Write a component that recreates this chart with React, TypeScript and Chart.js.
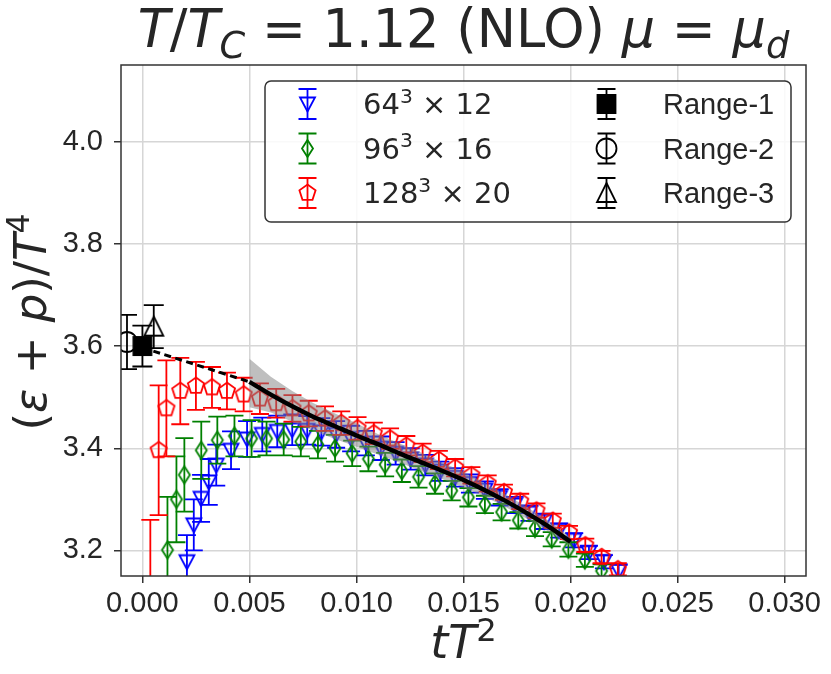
import { useEffect, useRef } from 'react';
import { Chart, registerables } from 'chart.js';

Chart.register(...registerables);

// axis ticks
const xTicks = [0, 0.005, 0.01, 0.015, 0.02, 0.025, 0.03];
const yTicks = [3.2, 3.4, 3.6, 3.8, 4.0];

// 64^3 x 12
const blueX = [0.00208, 0.0024, 0.00274, 0.0031, 0.00345, 0.00414, 0.00489, 0.0056, 0.0063, 0.007, 0.0077, 0.00836, 0.00905, 0.00975, 0.01044, 0.01114, 0.01183, 0.01253, 0.01322, 0.01392, 0.01461, 0.0153, 0.016, 0.01669, 0.01739, 0.01808, 0.01878, 0.01947, 0.02017, 0.02086, 0.02156, 0.02225];
const blueY = [3.178, 3.25, 3.302, 3.334, 3.367, 3.396, 3.418, 3.427, 3.433, 3.436, 3.435, 3.432, 3.427, 3.419, 3.41, 3.4, 3.39, 3.379, 3.367, 3.355, 3.343, 3.331, 3.318, 3.304, 3.289, 3.273, 3.257, 3.239, 3.22, 3.196, 3.178, 3.16];
const blueErr = [0.052, 0.05, 0.046, 0.045, 0.04, 0.037, 0.035, 0.033, 0.031, 0.03, 0.028, 0.027, 0.026, 0.025, 0.024, 0.023, 0.022, 0.021, 0.02, 0.019, 0.018, 0.018, 0.017, 0.016, 0.016, 0.015, 0.015, 0.014, 0.014, 0.013, 0.013, 0.012];

// 96^3 x 16
const greenX = [0.00117, 0.00159, 0.00196, 0.00275, 0.0035, 0.0043, 0.0051, 0.0058, 0.0066, 0.0074, 0.0082, 0.009, 0.0098, 0.01056, 0.01134, 0.01212, 0.0129, 0.01367, 0.01445, 0.01523, 0.016, 0.01678, 0.01756, 0.01834, 0.01912, 0.0199, 0.02067, 0.02145];
const greenY = [3.201, 3.3, 3.348, 3.396, 3.416, 3.424, 3.419, 3.419, 3.417, 3.413, 3.407, 3.4, 3.39, 3.379, 3.368, 3.356, 3.344, 3.331, 3.317, 3.304, 3.29, 3.275, 3.259, 3.243, 3.222, 3.202, 3.181, 3.16];
const greenErr = [0.104, 0.084, 0.072, 0.056, 0.046, 0.04, 0.036, 0.033, 0.031, 0.029, 0.027, 0.026, 0.025, 0.024, 0.023, 0.022, 0.021, 0.02, 0.019, 0.018, 0.017, 0.016, 0.016, 0.015, 0.014, 0.014, 0.013, 0.013];

// 128^3 x 20
const redX = [0.00037, 0.00076, 0.00112, 0.00177, 0.0025, 0.00325, 0.00395, 0.00473, 0.00549, 0.00625, 0.00701, 0.00777, 0.00853, 0.00929, 0.01005, 0.01081, 0.01157, 0.01233, 0.01309, 0.01385, 0.01461, 0.01537, 0.01613, 0.01689, 0.01765, 0.01841, 0.01917, 0.01993, 0.02069, 0.02145, 0.02221];
const redY = [3.08, 3.396, 3.478, 3.512, 3.522, 3.519, 3.512, 3.505, 3.497, 3.488, 3.478, 3.468, 3.458, 3.449, 3.439, 3.429, 3.419, 3.405, 3.391, 3.377, 3.362, 3.347, 3.331, 3.314, 3.296, 3.278, 3.258, 3.235, 3.21, 3.187, 3.163];
const redErr = [0.18, 0.127, 0.094, 0.065, 0.047, 0.04, 0.036, 0.033, 0.03, 0.028, 0.026, 0.025, 0.024, 0.023, 0.022, 0.021, 0.02, 0.019, 0.018, 0.018, 0.017, 0.016, 0.016, 0.015, 0.015, 0.014, 0.014, 0.013, 0.013, 0.012, 0.012];

// continuum extrapolations: Range-1, Range-2, Range-3
const rangeX = [0.0, -0.00072, 0.00053];
const rangeY = [3.6, 3.608, 3.638];
const rangeErr = [0.04, 0.053, 0.042];

// fit curve with error band
const fitX = [0.005, 0.006, 0.007, 0.008, 0.009, 0.01, 0.011, 0.012, 0.013, 0.014, 0.015, 0.016, 0.017, 0.018, 0.019, 0.02];
const fitY = [3.53, 3.505, 3.482, 3.461, 3.443, 3.425, 3.408, 3.39, 3.373, 3.356, 3.338, 3.318, 3.296, 3.272, 3.246, 3.217];
const bandHigh = [3.575, 3.54, 3.512, 3.488, 3.468, 3.449, 3.428, 3.41, 3.392, 3.372, 3.354, 3.332, 3.309, 3.284, 3.257, 3.226];
const bandLow = [3.48, 3.47, 3.452, 3.434, 3.418, 3.403, 3.388, 3.372, 3.356, 3.34, 3.323, 3.305, 3.284, 3.261, 3.236, 3.208];
const dashX = [0.0, 0.005];
const dashY = [3.597, 3.53];

const MATH = '"DejaVu Sans"';
const SANS = '"Liberation Sans"';
const TEXT = '#262626';

function drawMarker(ctx: CanvasRenderingContext2D, kind: string, x: number, y: number, color: string) {
  ctx.save();
  ctx.strokeStyle = color;
  ctx.fillStyle = color;
  ctx.lineWidth = 1.8;
  ctx.beginPath();
  if (kind === 'triDown') {
    ctx.moveTo(x - 7.5, y - 6.5);
    ctx.lineTo(x + 7.5, y - 6.5);
    ctx.lineTo(x, y + 7.5);
    ctx.closePath();
    ctx.stroke();
  } else if (kind === 'thinDiamond') {
    ctx.moveTo(x, y - 8.5);
    ctx.lineTo(x + 5.5, y);
    ctx.lineTo(x, y + 8.5);
    ctx.lineTo(x - 5.5, y);
    ctx.closePath();
    ctx.stroke();
  } else if (kind === 'pentagon') {
    for (let k = 0; k < 5; k++) {
      const a = -Math.PI / 2 + (k * 2 * Math.PI) / 5;
      const px = x + 8.5 * Math.cos(a);
      const py = y + 8.5 * Math.sin(a);
      if (k === 0) ctx.moveTo(px, py);
      else ctx.lineTo(px, py);
    }
    ctx.closePath();
    ctx.stroke();
  } else if (kind === 'square') {
    ctx.rect(x - 9, y - 9, 18, 18);
    ctx.fill();
    ctx.stroke();
  } else if (kind === 'circle') {
    ctx.arc(x, y, 10, 0, Math.PI * 2);
    ctx.stroke();
  } else if (kind === 'triUp') {
    ctx.moveTo(x, y - 10);
    ctx.lineTo(x + 9.5, y + 9);
    ctx.lineTo(x - 9.5, y + 9);
    ctx.closePath();
    ctx.stroke();
  }
  ctx.restore();
}

function markerCanvas(kind: string, color: string) {
  const c = document.createElement('canvas');
  c.width = 28;
  c.height = 28;
  drawMarker(c.getContext('2d')!, kind, 14, 14, color);
  return c;
}

type Piece = { t: string; it?: boolean; s?: number; dy?: number; f?: string };

function setFont(ctx: CanvasRenderingContext2D, p: Piece, size: number) {
  ctx.font = `${p.it ? 'italic ' : ''}${(size * (p.s ?? 1)).toFixed(1)}px ${p.f ?? MATH}`;
}

function richWidth(ctx: CanvasRenderingContext2D, pieces: Piece[], size: number) {
  let w = 0;
  for (const p of pieces) {
    setFont(ctx, p, size);
    w += ctx.measureText(p.t).width;
  }
  return w;
}

function drawRich(ctx: CanvasRenderingContext2D, pieces: Piece[], x: number, y: number, size: number) {
  let cx = x;
  ctx.textAlign = 'left';
  ctx.textBaseline = 'alphabetic';
  for (const p of pieces) {
    setFont(ctx, p, size);
    ctx.fillText(p.t, cx, y + (p.dy ?? 0) * size);
    cx += ctx.measureText(p.t).width;
  }
}

const titlePieces: Piece[] = [
  { t: 'T', it: true }, { t: '/' }, { t: 'T', it: true }, { t: 'C', it: true, s: 0.7, dy: 0.2 },
  { t: ' = 1.12 (NLO) ' }, { t: 'μ', it: true }, { t: ' = ' }, { t: 'μ', it: true }, { t: 'd', it: true, s: 0.7, dy: 0.2 },
];
const yLabelPieces: Piece[] = [
  { t: '(' }, { t: 'ε', it: true }, { t: ' + ' }, { t: 'p', it: true }, { t: ')/' }, { t: 'T', it: true }, { t: '4', s: 0.7, dy: -0.38 },
];
const xLabelPieces: Piece[] = [{ t: 'tT', it: true }, { t: '2', s: 0.7, dy: -0.38 }];

const legendRows = [
  { pieces: [{ t: '64' }, { t: '3', s: 0.7, dy: -0.38 }, { t: ' × 12' }], kind: 'triDown', color: '#0000ff' },
  { pieces: [{ t: '96' }, { t: '3', s: 0.7, dy: -0.38 }, { t: ' × 16' }], kind: 'thinDiamond', color: '#008000' },
  { pieces: [{ t: '128' }, { t: '3', s: 0.7, dy: -0.38 }, { t: ' × 20' }], kind: 'pentagon', color: '#ff0000' },
];
const legendRanges = [
  { text: 'Range-1', kind: 'square' },
  { text: 'Range-2', kind: 'circle' },
  { text: 'Range-3', kind: 'triUp' },
];

function vbar(ctx: CanvasRenderingContext2D, x: number, y1: number, y2: number, cap: number) {
  ctx.moveTo(x, y1);
  ctx.lineTo(x, y2);
  ctx.moveTo(x - cap, y1);
  ctx.lineTo(x + cap, y1);
  ctx.moveTo(x - cap, y2);
  ctx.lineTo(x + cap, y2);
}

const errorBarPlugin = {
  id: 'errorBars',
  beforeDatasetDraw(chart: any, args: any) {
    const ds = chart.data.datasets[args.index];
    if (!ds.errors) return;
    const { ctx, chartArea } = chart;
    const yScale = chart.scales.y;
    ctx.save();
    ctx.beginPath();
    ctx.rect(chartArea.left, chartArea.top, chartArea.right - chartArea.left, chartArea.bottom - chartArea.top);
    ctx.clip();
    ctx.strokeStyle = ds.errColor;
    ctx.lineWidth = 1.8;
    ctx.beginPath();
    args.meta.data.forEach((pt: any, i: number) => {
      const v = ds.data[i].y;
      const e = ds.errors[i];
      vbar(ctx, pt.x, yScale.getPixelForValue(v + e), yScale.getPixelForValue(v - e), ds.errCap);
    });
    ctx.stroke();
    ctx.restore();
  },
};

const decorPlugin = {
  id: 'decor',
  afterDraw(chart: any) {
    const { ctx, chartArea } = chart;
    const cx = (chartArea.left + chartArea.right) / 2;
    ctx.save();
    // frame
    ctx.strokeStyle = '#333333';
    ctx.lineWidth = 1.5;
    ctx.strokeRect(chartArea.left, chartArea.top, chartArea.right - chartArea.left, chartArea.bottom - chartArea.top);

    ctx.fillStyle = TEXT;
    // title
    const tw = richWidth(ctx, titlePieces, 52.5);
    drawRich(ctx, titlePieces, cx - tw / 2, 47, 52.5);
    // x label
    const xw = richWidth(ctx, xLabelPieces, 46);
    drawRich(ctx, xLabelPieces, cx - xw / 2, 658, 46);
    // y label
    ctx.save();
    ctx.translate(46, 322);
    ctx.rotate(-Math.PI / 2);
    const yw = richWidth(ctx, yLabelPieces, 45);
    drawRich(ctx, yLabelPieces, -yw / 2, 0, 45);
    ctx.restore();

    // legend
    const lx = 265, ly = 81, lw = 526, lh = 141, r = 6;
    ctx.beginPath();
    ctx.roundRect(lx, ly, lw, lh, r);
    ctx.fillStyle = 'rgba(255,255,255,0.85)';
    ctx.fill();
    ctx.strokeStyle = '#333333';
    ctx.lineWidth = 1.5;
    ctx.stroke();
    const rowY = [104, 148.5, 193];
    legendRows.forEach((row, i) => {
      const y = rowY[i];
      ctx.strokeStyle = row.color;
      ctx.lineWidth = 1.8;
      ctx.beginPath();
      vbar(ctx, 307.5, y - 15, y + 15, 9);
      ctx.stroke();
      drawMarker(ctx, row.kind, 307.5, y, row.color);
      ctx.fillStyle = TEXT;
      drawRich(ctx, row.pieces, 363, y + 10, 29);
    });
    legendRanges.forEach((row, i) => {
      const y = rowY[i];
      ctx.strokeStyle = '#000000';
      ctx.lineWidth = 1.8;
      ctx.beginPath();
      vbar(ctx, 606.5, y - 15, y + 15, 9);
      ctx.stroke();
      drawMarker(ctx, row.kind, 606.5, y, '#000000');
      ctx.fillStyle = TEXT;
      drawRich(ctx, [{ t: row.text, f: SANS }], 663, y + 10, 29);
    });
    ctx.restore();
  },
};

const pts = (xs: number[], ys: number[]) => xs.map((x, i) => ({ x, y: ys[i] }));

export default function App() {
  const canvasRef = useRef<HTMLCanvasElement | null>(null);

  useEffect(() => {
    document.body.style.margin = '0';
    if (!canvasRef.current) return;

    const series = (label: string, xs: number[], ys: number[], errs: number[], kind: string, color: string, order: number, cap = 9) => ({
      label,
      data: pts(xs, ys),
      errors: errs,
      errColor: color,
      errCap: cap,
      showLine: false,
      pointStyle: markerCanvas(kind, color),
      pointRadius: 8,
      order,
    });

    const chart = new Chart(canvasRef.current, {
      type: 'line',
      data: {
        datasets: [
          series('64^3 x 12', blueX, blueY, blueErr, 'triDown', '#0000ff', 7),
          series('96^3 x 16', greenX, greenY, greenErr, 'thinDiamond', '#008000', 6),
          series('128^3 x 20', redX, redY, redErr, 'pentagon', '#ff0000', 5),
          series('Range-2', [rangeX[1]], [rangeY[1]], [rangeErr[1]], 'circle', '#000000', 4, 10),
          series('Range-1', [rangeX[0]], [rangeY[0]], [rangeErr[0]], 'square', '#000000', 4, 10),
          series('Range-3', [rangeX[2]], [rangeY[2]], [rangeErr[2]], 'triUp', '#000000', 4, 10),
          {
            label: 'band low',
            data: pts(fitX, bandLow),
            showLine: true,
            borderWidth: 0,
            pointRadius: 0,
            fill: false,
            order: 3,
          },
          {
            label: 'band high',
            data: pts(fitX, bandHigh),
            showLine: true,
            borderWidth: 0,
            pointRadius: 0,
            fill: '-1',
            backgroundColor: 'rgba(128,128,128,0.5)',
            order: 3,
          },
          {
            label: 'extrapolation',
            data: pts(dashX, dashY),
            showLine: true,
            borderColor: '#000000',
            borderWidth: 3,
            borderDash: [7, 4.5],
            pointRadius: 0,
            order: 2,
          },
          {
            label: 'fit',
            data: pts(fitX, fitY),
            showLine: true,
            borderColor: '#000000',
            borderWidth: 4.5,
            pointRadius: 0,
            tension: 0.3,
            order: 1,
          },
        ] as any,
      },
      options: {
        responsive: false,
        animation: false,
        events: [],
        layout: { padding: { top: 65, right: 25, left: 0, bottom: 0 } },
        plugins: {
          legend: { display: false },
          title: { display: false },
          tooltip: { enabled: false },
        },
        scales: {
          x: {
            type: 'linear',
            min: -0.001,
            max: 0.031,
            afterFit: (s: any) => { s.height = 98; },
            afterBuildTicks: (s: any) => { s.ticks = xTicks.map((v) => ({ value: v })); },
            grid: { color: '#d6d6d6', lineWidth: 1.5, tickColor: '#333333', tickLength: 7, tickWidth: 1.5 },
            border: { display: false },
            ticks: {
              color: TEXT,
              padding: 4,
              maxRotation: 0,
              font: { family: 'Liberation Sans', size: 29 },
              callback: (v: any) => Number(v).toFixed(3),
            },
          },
          y: {
            type: 'linear',
            min: 3.15,
            max: 4.15,
            afterFit: (s: any) => { s.width = 121; },
            afterBuildTicks: (s: any) => { s.ticks = yTicks.map((v) => ({ value: v })); },
            grid: { color: '#d6d6d6', lineWidth: 1.5, tickColor: '#333333', tickLength: 7, tickWidth: 1.5 },
            border: { display: false },
            ticks: {
              color: TEXT,
              padding: 11,
              font: { family: 'Liberation Sans', size: 29 },
              callback: (v: any) => Number(v).toFixed(1),
            },
          },
        },
      } as any,
      plugins: [errorBarPlugin, decorPlugin],
    });

    return () => {
      chart.destroy();
    };
  }, []);

  return (
    <div style={{ width: '831px', height: '674px' }}>
      <canvas ref={canvasRef} width={831} height={674} />
    </div>
  );
}
